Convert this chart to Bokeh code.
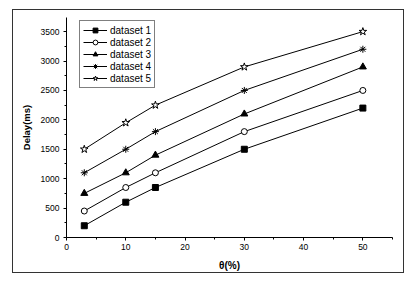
from bokeh.plotting import figure
from bokeh.models import Legend, LegendItem, Range1d, FixedTicker
from bokeh.embed import file_html
from bokeh.resources import INLINE

theta = [3, 10, 15, 30, 50]
dataset1 = [200, 600, 850, 1500, 2200]
dataset2 = [450, 850, 1100, 1800, 2500]
dataset3 = [750, 1100, 1400, 2100, 2900]
dataset4 = [1100, 1500, 1800, 2500, 3200]
dataset5 = [1500, 1950, 2250, 2900, 3500]
names = ["dataset 1", "dataset 2", "dataset 3", "dataset 4", "dataset 5"]
markers = ["square", "circle", "triangle", "asterisk", "star"]
fills = ["black", "white", "black", "black", "white"]
sizes = [6, 6, 7, 7, 8]
series = [dataset1, dataset2, dataset3, dataset4, dataset5]
x_ticks = [0, 10, 20, 30, 40, 50]
y_ticks = [0, 500, 1000, 1500, 2000, 2500, 3000, 3500]

p = figure(width=392, height=264, output_backend="svg", toolbar_location=None,
           x_range=Range1d(0, 55), y_range=Range1d(0, 3740),
           min_border_left=53, min_border_right=13, min_border_top=7, min_border_bottom=37,
           margin=(9, 0, 0, 12))
p.styles = {"border": "1px solid #333333"}
p.outline_line_color = None
p.grid.visible = False
p.background_fill_color = "white"

for ax in (p.xaxis[0], p.yaxis[0]):
    ax.major_label_text_font = "Liberation Sans"
    ax.major_label_text_font_size = "8.5px"
    ax.major_label_text_color = "black"
    ax.axis_label_text_font = "Liberation Sans"
    ax.axis_label_text_font_style = "bold"
    ax.axis_label_text_color = "black"
    ax.axis_line_color = "black"
    ax.major_tick_line_color = "black"
    ax.minor_tick_line_color = "black"
    ax.major_tick_out = 3
    ax.major_tick_in = 0
    ax.minor_tick_out = 2
    ax.minor_tick_in = 0

p.xaxis.ticker = FixedTicker(ticks=x_ticks, minor_ticks=[5, 15, 25, 35, 45, 55])
p.yaxis.ticker = FixedTicker(ticks=y_ticks, minor_ticks=[250 + 500 * i for i in range(7)])
p.xaxis.axis_label = "θ(%)"
p.yaxis.axis_label = "Delay(ms)"
p.xaxis.axis_label_text_font_size = "10px"
p.yaxis.axis_label_text_font_size = "9.5px"
p.xaxis.major_label_standoff = 3
p.yaxis.major_label_standoff = 4
p.xaxis.axis_label_standoff = 7
p.yaxis.axis_label_standoff = 6

items = []
for name, ys, mk, fc, sz in zip(names, series, markers, fills, sizes):
    ln = p.line(theta, ys, line_color="black", line_width=1)
    sc = p.scatter(theta, ys, marker=mk, size=sz, line_color="black", fill_color=fc, line_width=1)
    items.append(LegendItem(label=name, renderers=[ln, sc]))

legend = Legend(items=items, location=(13, 149))
legend.border_line_color = "black"
legend.border_line_width = 1
legend.label_text_font = "Liberation Sans"
legend.label_text_font_size = "10px"
legend.label_text_color = "black"
legend.label_height = 12
legend.glyph_height = 12
legend.glyph_width = 24
legend.label_standoff = 3
legend.spacing = 0
legend.padding = 3
legend.margin = 0
p.add_layout(legend, "center")

open("out.html", "w").write(file_html(p, INLINE))
